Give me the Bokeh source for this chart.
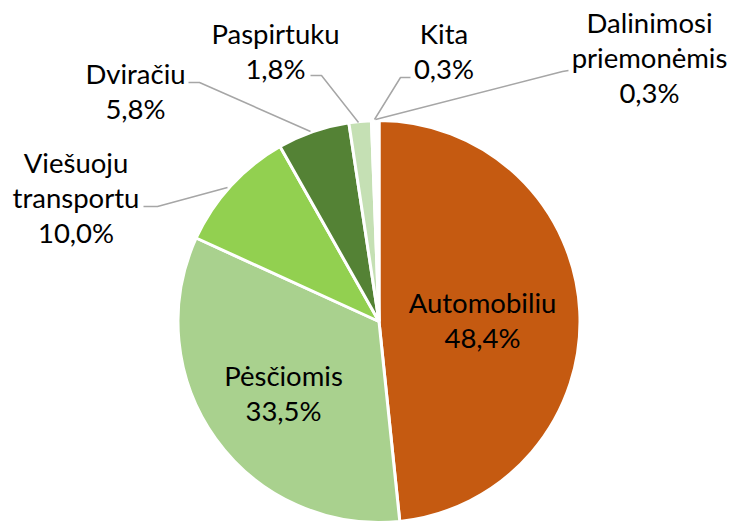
import math
from bokeh.plotting import figure
from bokeh.models import ColumnDataSource, Range1d
from bokeh.core.properties import value
from bokeh.embed import file_html
from bokeh.resources import INLINE

# ---- data ----
categories = ["Automobiliu", "Pėsčiomis", "Viešuoju\ntransportu", "Dviračiu",
              "Paspirtuku", "Kita", "Dalinimosi\npriemonėmis"]
shares = [48.4, 33.5, 10.0, 5.8, 1.8, 0.3, 0.3]
colors = ["#C55A11", "#A9D18E", "#92D050", "#548235", "#C5E0B4", "#FFFFFF", "#FFFFFF"]

# ---- layout (pixel coordinates) ----
W, H = 732, 522
CX, CY, R = 378.5, 321.0, 201
# label block centres (px)
label_pos = [(482, 319), (283, 392), (75.5, 197), (135, 90),
             (275, 50), (443.5, 50.5), (649, 57)]
# leader lines (px), None for labels inside the pie
leaders = [None, None,
           [(143, 206), (157, 206), (227, 187)],
           [(188, 82), (199, 82), (310, 131)],
           [(310, 75), (321, 75), (358, 122)],
           [(410, 77), (400, 77), (374, 119)],
           [(568, 70), (562, 71), (375, 119)]]
LINE_STEP = 35


def fx(x):
    return x


def fy(y):
    return H - y


p = figure(width=W, height=H, output_backend="svg", toolbar_location=None,
           x_range=Range1d(0, W), y_range=Range1d(0, H), min_border=0)
p.axis.visible = False
p.grid.visible = False
p.outline_line_color = None
p.background_fill_color = "white"
p.border_fill_color = "white"

total = sum(shares)
starts, ends = [], []
cum = 0.0
for v in shares:
    a0 = cum / total
    cum += v
    a1 = cum / total
    # clockwise from 12 o'clock
    starts.append(math.pi / 2 - 2 * math.pi * a1)
    ends.append(math.pi / 2 - 2 * math.pi * a0)

src = ColumnDataSource(dict(start=starts, end=ends, color=colors,
                            x=[fx(CX)] * len(shares), y=[fy(CY)] * len(shares)))
p.wedge(x="x", y="y", radius=R, radius_units="screen", start_angle="start",
        end_angle="end", fill_color="color", line_color="white", line_width=3,
        source=src)

# leader lines
for ld in leaders:
    if ld is None:
        continue
    p.line([fx(a) for a, b in ld], [fy(b) for a, b in ld],
           line_color="#A6A6A6", line_width=1.5)

# labels
tx, ty, tt = [], [], []
for cat, v, (lx, ly) in zip(categories, shares, label_pos):
    lines = cat.split("\n") + [f"{v:.1f}".replace(".", ",") + "%"]
    n = len(lines)
    for i, s in enumerate(lines):
        tx.append(fx(lx))
        ty.append(fy(ly + (i - (n - 1) / 2) * LINE_STEP))
        tt.append(s)

p.text(x=tx, y=ty, text=tt, text_font=value("Lato"), text_font_size="27.5px",
       text_align="center", text_baseline="middle", text_color="#000000")

open("out.html", "w").write(file_html(p, INLINE))
